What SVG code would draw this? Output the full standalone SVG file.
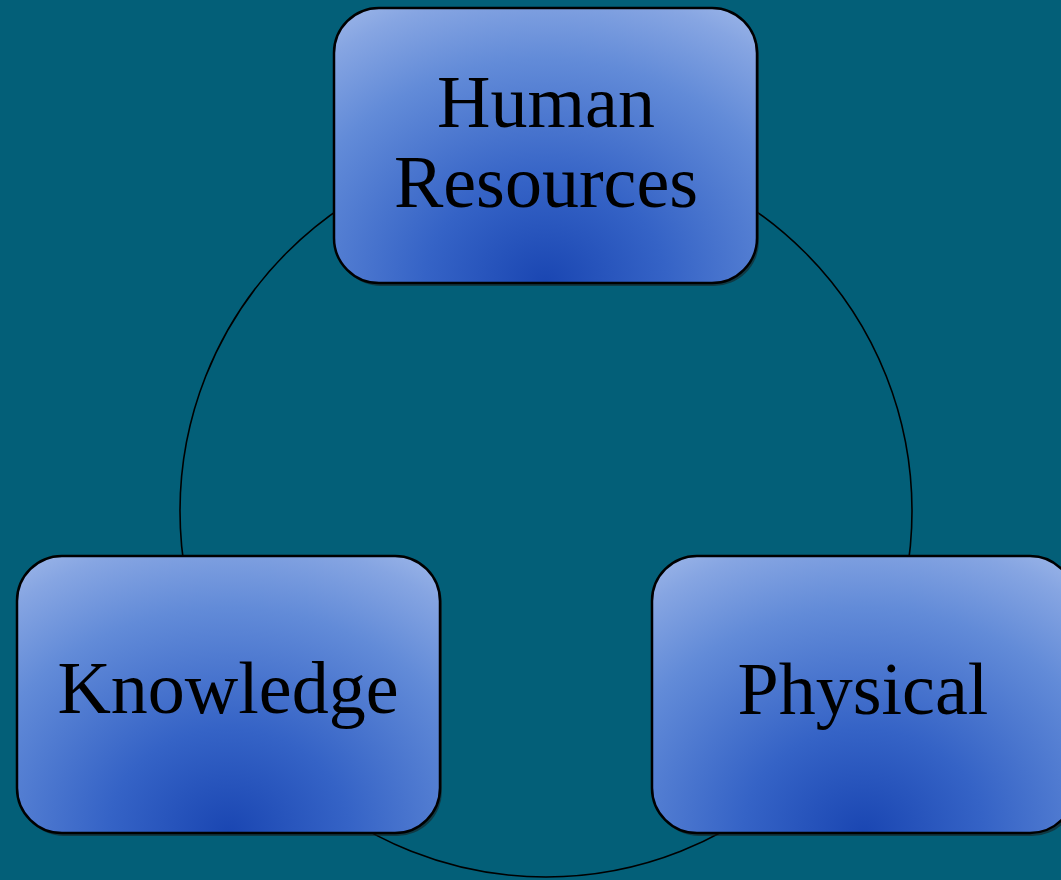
<svg xmlns="http://www.w3.org/2000/svg" width="1061" height="880" viewBox="0 0 1061 880">
<style>
.box{fill:url(#g);stroke:#000;stroke-width:2.5}
.sh{fill:#1a1a1a;opacity:0.55}
.lbl{font-family:"Liberation Serif","DejaVu Serif",serif;font-size:74px;fill:#000;text-anchor:middle}
</style>
<defs>
<radialGradient id="g" cx="0.5" cy="1" r="1" fx="0.5" fy="1" gradientTransform="translate(0.5 1) scale(0.95 1.25) translate(-0.5 -1)">
<stop offset="0" stop-color="#1a46b2"/>
<stop offset="0.3" stop-color="#3563c6"/>
<stop offset="0.65" stop-color="#628bd8"/>
<stop offset="0.85" stop-color="#86a5e2"/>
<stop offset="1" stop-color="#a8bfec"/>
</radialGradient>
</defs>
<rect width="1061" height="880" fill="#035f78"/>
<g id="connectors">
<circle cx="546" cy="511" r="366" fill="none" stroke="#000" stroke-width="1.6"/>
</g>
<g id="human-resources">
<rect class="sh" x="336" y="11" width="423" height="275" rx="45"/>
<rect class="box" x="334" y="8" width="423" height="275" rx="45"/>
<text class="lbl" x="546" y="127">Human</text>
<text class="lbl" x="546" y="207">Resources</text>
</g>
<g id="knowledge">
<rect class="sh" x="19" y="559" width="423" height="277" rx="45"/>
<rect class="box" x="17" y="556" width="423" height="277" rx="45"/>
<text class="lbl" x="228" y="713">Knowledge</text>
</g>
<g id="physical">
<rect class="sh" x="654" y="559" width="423" height="277" rx="45"/>
<rect class="box" x="652" y="556" width="423" height="277" rx="45"/>
<text class="lbl" x="863" y="714">Physical</text>
</g>
</svg>
